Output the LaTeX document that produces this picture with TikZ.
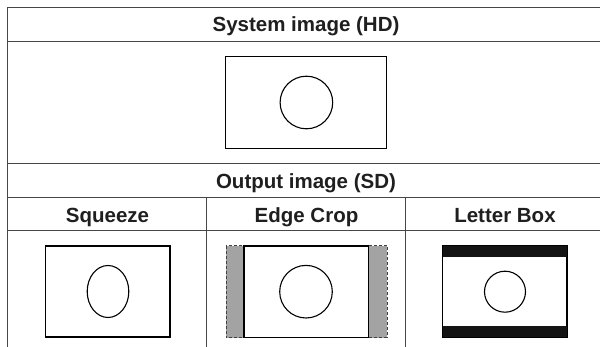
\documentclass[tikz,border=0pt]{standalone}
\usepackage{fontspec}
\setmainfont{Liberation Sans}
\begin{document}
\begin{tikzpicture}[x=1pt,y=-1pt,
  grid/.style={draw=black!72,line width=1.3pt},
  frame/.style={draw=black,line width=1.1pt},
  hdr/.style={font=\bfseries\fontsize{20.5}{23}\selectfont,inner sep=0pt,anchor=base,text=black!88},
  cropband/.style={fill=black!36,draw=black!75,line width=1pt,dash pattern=on 3pt off 2pt},
  bar/.style={fill=black!92,draw=none}]
\useasboundingbox (0,0) rectangle (600,347);
% table grid
\draw[grid] (7.7,347) -- (7.7,7.3) -- (600,7.3);
\draw[grid] (7.7,41.7) -- (600,41.7);
\draw[grid] (7.7,163.5) -- (600,163.5);
\draw[grid] (7.7,197.7) -- (600,197.7);
\draw[grid] (7.7,230.7) -- (600,230.7);
\draw[grid] (206.7,197.7) -- (206.7,347);
\draw[grid] (405.7,197.7) -- (405.7,347);
% headers
\node[hdr] (sys) at (306,31.6) {System image (HD)};
\node[hdr] (out) at (306,188.2) {Output image (SD)};
\node[hdr] (sq) at (107.5,222.6) {Squeeze};
\node[hdr] (ec) at (306.5,222.6) {Edge Crop};
\node[hdr] (lb) at (505,222.6) {Letter Box};
% HD image
\draw[frame] (225.7,56.7) rectangle (386.7,148.3);
\draw[frame] (306.4,102.5) circle[radius=26.3];
% Squeeze
\draw[frame] (45.7,246) rectangle (170,337);
\draw[frame] (108,291.5) ellipse[x radius=20.8,y radius=26];
% Edge crop
\draw[cropband] (226,246) rectangle (387.3,337.6);
\draw[frame,fill=white] (244,246) rectangle (368.8,337.6);
\draw[frame] (306,291.7) circle[radius=26.3];
% Letter box
\draw[frame] (442.6,246) rectangle (567,337.4);
\fill[bar] (442.6,246) rectangle (567,257.3);
\fill[bar] (442.6,326.1) rectangle (567,337.4);
\draw[frame] (505,291.7) circle[radius=20.5];
\end{tikzpicture}
\end{document}
